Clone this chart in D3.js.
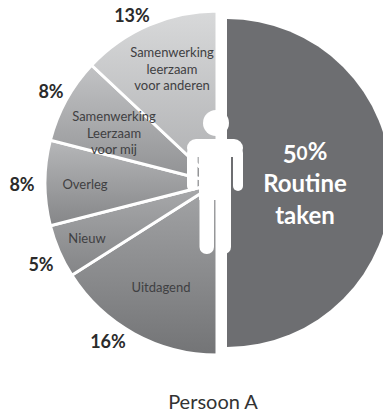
<!DOCTYPE html>
<html>
<head>
<meta charset="utf-8">
<script src="https://cdnjs.cloudflare.com/ajax/libs/d3/7.8.5/d3.min.js"></script>
<style>
html,body{margin:0;padding:0;background:#fff;overflow:hidden}
text{font-family:Lato,"Open Sans",sans-serif}
</style>
</head>
<body>
<svg id="chart" width="383" height="414"></svg>
<script>
// Time split of one person's work, in percent
const categories = ["Routine taken", "Uitdagend", "Nieuw", "Overleg", "Samenwerking Leerzaam voor mij", "Samenwerking leerzaam voor anderen"];
const shares = [50, 16, 5, 8, 8, 13];
const sliceLabels = [null, ["Uitdagend"], ["Nieuw"], ["Overleg"], ["Samenwerking", "Leerzaam", "voor mij"], ["Samenwerking", "leerzaam", "voor anderen"]];
const topShades = ["#6d6e71", "#a4a5a7", "#a9aaac", "#b6b7b9", "#c2c3c5", "#d8d9da"];
const bottomShades = ["#6d6e71", "#737476", "#848587", "#858688", "#8f9092", "#adaeb0"];
const personTitle = "Persoon A";

const svg = d3.select("#chart");
const defs = svg.append("defs");

const pie = d3.pie().sort(null).value(d => d)(shares);

const cy = 183;
const routineCentre = [227, cy];
const restCentre = [217, cy];
const routineArc = d3.arc().innerRadius(0).outerRadius(164);
const restArc = d3.arc().innerRadius(0).outerRadius(172);

pie.forEach((d, i) => {
  const g = defs.append("linearGradient").attr("id", "shade" + i)
    .attr("x1", 0).attr("y1", 0).attr("x2", 0).attr("y2", 1);
  g.append("stop").attr("offset", 0).attr("stop-color", topShades[i]);
  g.append("stop").attr("offset", 1).attr("stop-color", bottomShades[i]);
});

// Routine half sits apart from the other slices, which share one centre
svg.append("path").datum(pie[0])
  .attr("transform", `translate(${routineCentre})`)
  .attr("d", routineArc).attr("fill", "url(#shade0)");

const rest = svg.append("g").attr("transform", `translate(${restCentre})`);
rest.selectAll("path").data(pie.slice(1)).join("path")
  .attr("d", restArc)
  .attr("fill", (d, i) => `url(#shade${i + 1})`)
  .attr("stroke", "#fff").attr("stroke-width", 3).attr("stroke-linejoin", "miter");

// Outer percentage labels
const outerPos = [null, [108, 341], [41, 264], [22, 184], [51, 91], [132, 15]];
pie.slice(1).forEach((d, k) => {
  const i = k + 1;
  svg.append("text")
    .attr("x", outerPos[i][0]).attr("y", outerPos[i][1])
    .attr("text-anchor", "middle").attr("dominant-baseline", "central")
    .attr("font-size", 18).attr("font-weight", 700).attr("fill", "#2b2b2b")
    .text(shares[i] + "%");
});

// Slice names inside the pie
const innerPos = [null, [161, 292], [87, 243], [85, 189], [114, 121], [172, 57]];
const innerLine = [0, 0, 0, 0, 16.5, 16.5];
pie.forEach((d, i) => {
  if (!sliceLabels[i]) return;
  const t = svg.append("text").attr("text-anchor", "middle")
    .attr("font-size", 13).attr("fill", "#3f4042");
  sliceLabels[i].forEach((line, j) => {
    t.append("tspan").attr("x", innerPos[i][0]).attr("y", innerPos[i][1] + j * innerLine[i]).text(line);
  });
});

// Routine label in white; the share is set with old-style figures
const routine = svg.append("g").attr("text-anchor", "middle").attr("fill", "#fff")
  .attr("font-size", 24).attr("font-weight", 700);
const shareText = routine.append("text").attr("x", 305).attr("y", 160);
const digits = String(shares[0]);
shareText.append("tspan").attr("dy", 2.5).text(digits[0]);
shareText.append("tspan").attr("dy", -2.5).attr("font-size", 19).text(digits[1]);
shareText.append("tspan").text("%");
routine.append("text").attr("x", 305).attr("y", 192).text("Routine");
routine.append("text").attr("x", 305).attr("y", 224).text("taken");

// Person icon over the centre
const person = svg.append("g").attr("fill", "#fff");
person.append("circle").attr("cx", 216).attr("cy", 123).attr("r", 13);
person.append("rect").attr("x", 187).attr("y", 139).attr("width", 56).attr("height", 18).attr("rx", 9);
person.append("rect").attr("x", 187).attr("y", 148).attr("width", 10.5).attr("height", 43).attr("rx", 5);
person.append("rect").attr("x", 233).attr("y", 148).attr("width", 10).attr("height", 43).attr("rx", 5);
person.append("rect").attr("x", 199).attr("y", 145).attr("width", 32).attr("height", 55);
person.append("rect").attr("x", 199.5).attr("y", 190).attr("width", 14.5).attr("height", 64).attr("rx", 7);
person.append("rect").attr("x", 216).attr("y", 190).attr("width", 15).attr("height", 64).attr("rx", 7);

svg.append("text").attr("x", 213).attr("y", 409).attr("text-anchor", "middle")
  .attr("font-size", 20).attr("fill", "#333").text(personTitle);
</script>
</body>
</html>
